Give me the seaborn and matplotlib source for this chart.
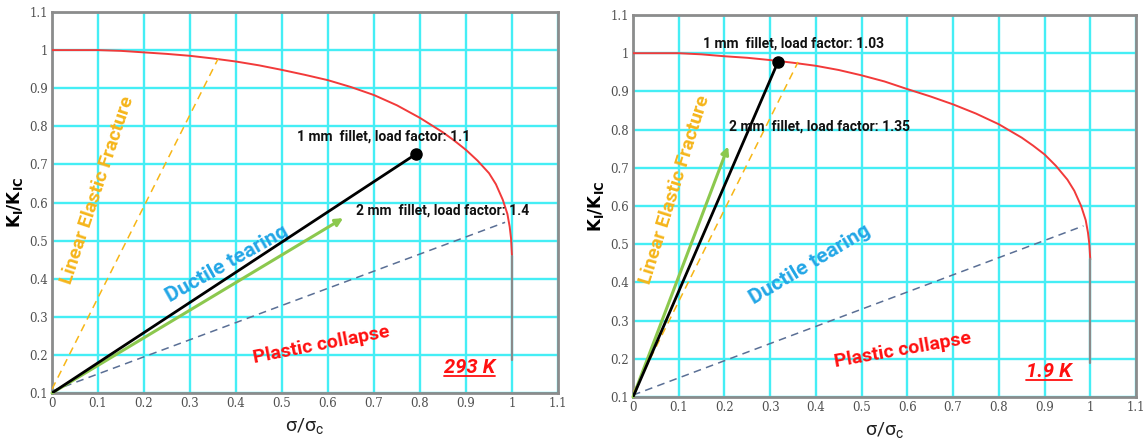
import matplotlib
matplotlib.use('Agg')
import matplotlib.pyplot as plt
import seaborn as sns
from matplotlib.lines import Line2D

# ---------------- data ----------------
sigma_fal = [0.0, 0.05, 0.1, 0.15, 0.2, 0.25, 0.3, 0.35, 0.4, 0.45, 0.5, 0.55, 0.6, 0.65, 0.7,
             0.75, 0.8, 0.85, 0.875, 0.9, 0.925, 0.95, 0.965, 0.98, 0.99, 0.995, 0.998, 1.0]
kr_fal_293 = [1.0, 1.0, 1.0, 0.998, 0.994, 0.990, 0.985, 0.978, 0.970, 0.960, 0.948, 0.935,
              0.921, 0.903, 0.882, 0.855, 0.822, 0.784, 0.762, 0.738, 0.710, 0.677, 0.648,
              0.607, 0.570, 0.536, 0.505, 0.46]
kr_fal_19 = [1.0, 1.0, 1.0, 0.997, 0.992, 0.988, 0.982, 0.975, 0.967, 0.956, 0.942, 0.926,
             0.906, 0.887, 0.866, 0.842, 0.814, 0.779, 0.758, 0.735, 0.705, 0.669, 0.640,
             0.600, 0.563, 0.530, 0.500, 0.46]

cut_sigma = [1.0, 1.0]
cut_kr_293 = [0.46, 0.187]
cut_kr_19 = [0.46, 0.189]

lef_sigma = [0.0, 0.361]          # linear elastic fracture boundary
lef_kr = [0.11, 0.977]
pc_sigma = [0.0, 0.985]           # plastic collapse boundary
pc_kr = [0.105, 0.548]

mm1_sigma_293 = [0.0, 0.791]; mm1_kr_293 = [0.1, 0.727]
mm2_sigma_293 = [0.0, 0.633]; mm2_kr_293 = [0.1, 0.559]
mm1_sigma_19 = [0.0, 0.317]; mm1_kr_19 = [0.1, 0.977]
mm2_sigma_19 = [0.0, 0.208]; mm2_kr_19 = [0.1, 0.756]

tick_x = [0, 0.1, 0.2, 0.3, 0.4, 0.5, 0.6, 0.7, 0.8, 0.9, 1.0, 1.1]
tick_x_labels = ['0', '0.1', '0.2', '0.3', '0.4', '0.5', '0.6', '0.7', '0.8', '0.9', '1', '1.1']
tick_y = [0.1, 0.2, 0.3, 0.4, 0.5, 0.6, 0.7, 0.8, 0.9, 1.0, 1.1]
tick_y_labels = ['0.1', '0.2', '0.3', '0.4', '0.5', '0.6', '0.7', '0.8', '0.9', '1', '1.1']

label_1mm = ['1 mm  fillet, load factor: 1.1', '1 mm  fillet, load factor: 1.03']
label_2mm = ['2 mm  fillet, load factor: 1.4', '2 mm  fillet, load factor: 1.35']
temps = ['293 K', '1.9 K']

# ---------------- styling ----------------
sns.set_style('white')
plt.rcParams['font.family'] = ['Roboto', 'DejaVu Sans']

RED = '#f23a3a'
CYAN = '#45eef5'
ORANGE = '#f7b616'
BLUE_DASH = '#5a6f95'
GREEN = '#8cc84e'
TXT_BLUE = '#22a6e6'
TXT_ORANGE = '#f5b51a'

fig = plt.figure(figsize=(11.48, 4.45), dpi=100)
ax_l = fig.add_axes([52 / 1148, 1 - 393 / 445, 506 / 1148, 381 / 445])
ax_r = fig.add_axes([633 / 1148, 1 - 397 / 445, 503 / 1148, 382 / 445])

panels = [
    dict(ax=ax_l, kr=kr_fal_293, cut=cut_kr_293,
         m1=(mm1_sigma_293, mm1_kr_293), m2=(mm2_sigma_293, mm2_kr_293),
         t1=(0.533, 0.772), t2=(0.661, 0.58),
         lef_t=(0.098, 0.633, 71.5), dt_t=(0.38, 0.44, 29.5), pc_t=(0.585, 0.226, 11),
         temp=(0.908, 0.168)),
    dict(ax=ax_r, kr=kr_fal_19, cut=cut_kr_19,
         m1=(mm1_sigma_19, mm1_kr_19), m2=(mm2_sigma_19, mm2_kr_19),
         t1=(0.153, 1.024), t2=(0.21, 0.809),
         lef_t=(0.092, 0.643, 72.5), dt_t=(0.387, 0.446, 31), pc_t=(0.59, 0.224, 10),
         temp=(0.91, 0.168)),
]

temp_texts = []
for i, p in enumerate(panels):
    ax = p['ax']
    ax.set_xlim(0, 1.1)
    ax.set_ylim(0.1, 1.1)
    ax.set_xticks(tick_x)
    ax.set_xticklabels(tick_x_labels)
    ax.set_yticks(tick_y)
    ax.set_yticklabels(tick_y_labels)
    ax.tick_params(length=0, labelsize=8.5, labelcolor='#505050', pad=3)
    for lab in ax.get_xticklabels() + ax.get_yticklabels():
        lab.set_fontfamily('DejaVu Serif')
    ax.grid(True, color=CYAN, lw=1.7)
    ax.set_axisbelow(True)
    for s in ax.spines.values():
        s.set_color('#8c8c8c')
        s.set_linewidth(2.0)
        s.set_visible(True)

    # failure assessment curve
    sns.lineplot(x=sigma_fal, y=p['kr'], ax=ax, color=RED, lw=1.4,
                 estimator=None, sort=False, zorder=3)
    sns.lineplot(x=cut_sigma, y=p['cut'], ax=ax, color='#8a8a8a', lw=1.6,
                 estimator=None, sort=False, zorder=3)
    # boundaries
    sns.lineplot(x=lef_sigma, y=lef_kr, ax=ax, color=ORANGE, lw=1.1,
                 estimator=None, sort=False, zorder=3)
    ax.lines[-1].set_linestyle((0, (5, 3.5)))
    sns.lineplot(x=pc_sigma, y=pc_kr, ax=ax, color=BLUE_DASH, lw=1.1,
                 estimator=None, sort=False, zorder=3)
    ax.lines[-1].set_linestyle((0, (5, 3.5)))
    # 1 mm fillet
    sns.lineplot(x=p['m1'][0], y=p['m1'][1], ax=ax, color='black', lw=2.0,
                 estimator=None, sort=False, zorder=5)
    ax.plot(p['m1'][0][-1:], p['m1'][1][-1:], 'o', color='black', ms=8, zorder=6)
    # 2 mm fillet arrow
    ax.annotate('', xy=(p['m2'][0][1], p['m2'][1][1]), xytext=(p['m2'][0][0], p['m2'][1][0]),
                arrowprops=dict(arrowstyle='-|>', color=GREEN, lw=2.2,
                                mutation_scale=11, shrinkA=0, shrinkB=0), zorder=4)

    ax.text(p['t1'][0], p['t1'][1], label_1mm[i], fontsize=10, fontweight='bold',
            color='#111111', ha='left', va='center', zorder=7)
    ax.text(p['t2'][0], p['t2'][1], label_2mm[i], fontsize=10, fontweight='bold',
            color='#111111', ha='left', va='center', zorder=7)

    ax.text(p['lef_t'][0], p['lef_t'][1], 'Linear Elastic Fracture', rotation=p['lef_t'][2],
            fontsize=14, fontweight='bold', color=TXT_ORANGE, ha='center', va='center',
            rotation_mode='anchor')
    ax.text(p['dt_t'][0], p['dt_t'][1], 'Ductile tearing', rotation=p['dt_t'][2],
            fontsize=15, fontweight='bold', color=TXT_BLUE, ha='center', va='center',
            rotation_mode='anchor')
    ax.text(p['pc_t'][0], p['pc_t'][1], 'Plastic collapse', rotation=p['pc_t'][2],
            fontsize=14, fontweight='bold', color='#ff1010', ha='center', va='center',
            rotation_mode='anchor')
    t = ax.text(p['temp'][0], p['temp'][1], temps[i], fontsize=14.5, fontweight='bold',
                fontstyle='italic', color='#ff1010', ha='center', va='center')
    temp_texts.append(t)

    ax.set_xlabel(r'σ/σ$_\mathregular{c}$', fontsize=14, color='#222222', labelpad=5)
    ax.set_ylabel(r'$\mathbf{K_I/K_{IC}}$', fontsize=12, color='black', labelpad=3)

# underline temperature labels
fig.canvas.draw()
renderer = fig.canvas.get_renderer()
inv = fig.transFigure.inverted()
for t in temp_texts:
    bb = t.get_window_extent(renderer)
    (x0, y0), (x1, y1) = inv.transform([(bb.x0, bb.y0 + 1), (bb.x1, bb.y0 + 1)])
    fig.add_artist(Line2D([x0, x1], [y0, y1], transform=fig.transFigure,
                          color='#ff1010', lw=1.3))

fig.savefig('out.png', dpi=100, facecolor='white')
